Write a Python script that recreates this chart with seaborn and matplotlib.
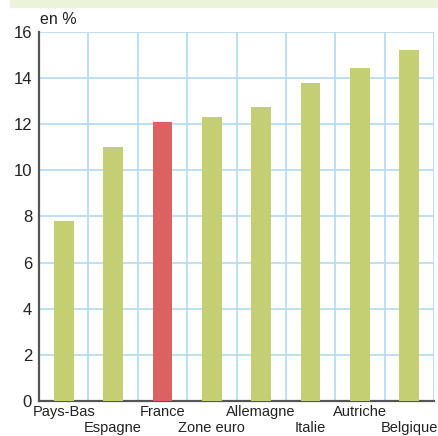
import matplotlib
matplotlib.use("Agg")
import matplotlib.pyplot as plt
import seaborn as sns
import pandas as pd

countries = ["Pays-Bas", "Espagne", "France", "Zone euro", "Allemagne", "Italie", "Autriche", "Belgique"]
values = [7.8, 11.0, 12.1, 12.3, 12.75, 13.8, 14.45, 15.2]
bar_colors = ["#c4ce72", "#c4ce72", "#dc6262", "#c4ce72", "#c4ce72", "#c4ce72", "#c4ce72", "#c4ce72"]
y_ticks = [0, 2, 4, 6, 8, 10, 12, 14, 16]

sns.set_theme(style="white")
plt.rcParams["font.family"] = ["Liberation Sans", "DejaVu Sans"]

df = pd.DataFrame({"pays": countries, "valeur": values})

fig = plt.figure(figsize=(4.38, 4.36), dpi=100)
ax = fig.add_axes([39 / 438, 1 - 401 / 436, 395 / 438, 369 / 436])

sns.barplot(data=df, x="pays", y="valeur", hue="pays", palette=bar_colors,
            legend=False, width=0.4, ax=ax, zorder=3, saturation=1,
            edgecolor="none", linewidth=0)

ax.set_xlim(-0.5, len(countries) - 0.5)
ax.set_ylim(0, 16)
ax.set_yticks(y_ticks)
ax.set_yticklabels([str(t) for t in y_ticks], fontsize=12, color="#222222")

# vertical separators between categories, horizontal grid every 2 points
grid_color = "#b3d9f0"
for i in range(len(countries) + 1):
    ax.axvline(i - 0.5, color=grid_color, lw=1.2, zorder=1)
for t in y_ticks[1:]:
    ax.axhline(t, color=grid_color, lw=1.2, zorder=1)

ax.set_xticks(range(len(countries)))
ax.set_xticklabels([])
for i, name in enumerate(countries):
    ax.annotate(name, xy=(i, 0), xycoords=("data", "axes fraction"),
                xytext=(0, -3 if i % 2 == 0 else -14.5), textcoords="offset points",
                ha="center", va="top", fontsize=10.5, color="#222222")

ax.tick_params(axis="y", length=0, pad=5)
ax.tick_params(axis="x", length=0)
for side in ["top", "right"]:
    ax.spines[side].set_visible(False)
ax.spines["left"].set_color("#555555")
ax.spines["left"].set_linewidth(1.6)
ax.spines["bottom"].set_color("#555555")
ax.spines["bottom"].set_linewidth(1.6)
ax.set_xlabel("")
ax.set_ylabel("")

fig.text(40 / 438, 1 - 19 / 436, "en %", fontsize=11.5, va="center", ha="left", color="#222222")

# light header band
fig.patches.append(plt.Rectangle((10 / 438, 1 - 7 / 436), 428 / 438, 7 / 436,
                                 transform=fig.transFigure, color="#ebf3d9", zorder=0))

fig.savefig("out.png", dpi=100)
